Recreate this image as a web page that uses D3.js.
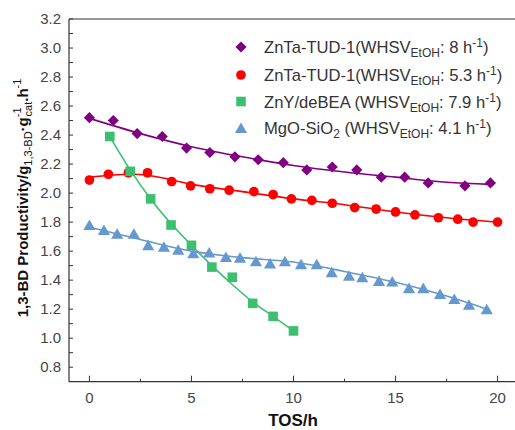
<!DOCTYPE html>
<html>
<head>
<meta charset="utf-8">
<script src="https://cdn.jsdelivr.net/npm/d3@7"></script>
<style>
  body { margin: 0; background: #fff; }
  svg { display: block; font-family: "Liberation Sans", Arial, sans-serif; }
</style>
</head>
<body>
<svg id="chart" width="515" height="430"></svg>
<script>
// measured points, TOS (h) vs productivity
const purpleX = [0, 1.17, 2.34, 3.57, 4.76, 5.9, 7.13, 8.27, 9.5, 10.65, 11.9, 13.1, 14.3, 15.45, 16.6, 18.4, 19.65];
const purpleY = [2.52, 2.50, 2.41, 2.39, 2.31, 2.28, 2.25, 2.23, 2.21, 2.16, 2.18, 2.16, 2.11, 2.11, 2.07, 2.05, 2.07];

const redX = [0, 0.93, 1.91, 2.85, 4.03, 4.96, 5.9, 6.85, 8.06, 9.0, 9.9, 10.9, 11.9, 13.0, 14.05, 15.0, 15.95, 17.1, 18.05, 18.8, 20.0];
const redY = [2.09, 2.13, 2.14, 2.14, 2.08, 2.05, 2.03, 2.02, 2.01, 1.99, 1.96, 1.95, 1.93, 1.90, 1.89, 1.87, 1.85, 1.83, 1.82, 1.80, 1.80];

const greenX = [1, 2, 3, 4, 5, 6, 7, 8, 9, 10];
const greenY = [2.39, 2.15, 1.96, 1.78, 1.64, 1.49, 1.42, 1.24, 1.15, 1.05];

const blueX = [0, 0.71, 1.36, 2.18, 2.88, 3.65, 4.35, 5.09, 5.87, 6.69, 7.38, 8.16, 8.85, 9.58, 10.37, 11.14, 11.87, 12.72, 13.37, 14.19, 14.84, 15.66, 16.36, 17.18, 17.88, 18.6, 19.47];
const blueY = [1.78, 1.745, 1.72, 1.72, 1.64, 1.63, 1.61, 1.585, 1.59, 1.56, 1.555, 1.53, 1.515, 1.53, 1.51, 1.51, 1.455, 1.43, 1.42, 1.395, 1.39, 1.345, 1.345, 1.305, 1.27, 1.23, 1.20];

// fitted trend lines
const purpleFitX = [0, 2.5, 5, 7.5, 10, 12.5, 15, 17.5, 19.65];
const purpleFitY = [2.515, 2.41, 2.32, 2.25, 2.19, 2.145, 2.11, 2.075, 2.06];
const redFitX = [0, 2, 3, 5, 7.5, 10, 12.5, 15, 17.5, 20];
const redFitY = [2.11, 2.13, 2.12, 2.06, 2.01, 1.96, 1.92, 1.87, 1.83, 1.80];
const greenFitX = [1, 2, 3, 4, 5, 6, 7, 8, 9, 10];
const greenFitY = [2.39, 2.16, 1.96, 1.79, 1.64, 1.50, 1.37, 1.25, 1.15, 1.05];
const blueFitX = [0, 2.5, 5, 7.5, 10, 12.5, 15, 17.5, 19.47];
const blueFitY = [1.765, 1.68, 1.60, 1.555, 1.525, 1.46, 1.385, 1.29, 1.20];

const xTicks = [0, 5, 10, 15, 20];
const xMinor = [2.5, 7.5, 12.5, 17.5];
const yTicks = [0.8, 1.0, 1.2, 1.4, 1.6, 1.8, 2.0, 2.2, 2.4, 2.6, 2.8, 3.0, 3.2];
const yMinor = [0.9, 1.1, 1.3, 1.5, 1.7, 1.9, 2.1, 2.3, 2.5, 2.7, 2.9, 3.1];

const legendNames = ["ZnTa-TUD-1(WHSV", "ZnTa-TUD-1(WHSV", "ZnY/deBEA (WHSV", "MgO-SiO"];
const legendRates = ["8", "5.3", "7.9", "4.1"];

const series = [
  { x: purpleX, y: purpleY, fx: purpleFitX, fy: purpleFitY, color: "#800080", shape: "diamond" },
  { x: redX, y: redY, fx: redFitX, fy: redFitY, color: "#ff0000", shape: "circle" },
  { x: greenX, y: greenY, fx: greenFitX, fy: greenFitY, color: "#3cbf6e", shape: "square" },
  { x: blueX, y: blueY, fx: blueFitX, fy: blueFitY, color: "#6698d0", shape: "triangle" }
];

const svg = d3.select("#chart");
const plotLeft = 69, plotRight = 518, plotTop = 19, plotBottom = 381.7;

const x = d3.scaleLinear().domain([-1, 21]).range([plotLeft, plotRight]);
const y = d3.scaleLinear().domain([0.7, 3.2]).range([plotBottom, plotTop]);

const axisColor = "#333";
const labelColor = "#444";

function markerPath(shape) {
  if (shape === "diamond") return d3.symbol(d3.symbolSquare, 62)();
  if (shape === "circle") return d3.symbol(d3.symbolCircle, 74)();
  if (shape === "square") return d3.symbol(d3.symbolSquare, 92)();
  return d3.symbol(d3.symbolTriangle, 64)();
}
function markerTransform(shape, px, py) {
  if (shape === "diamond") return `translate(${px},${py}) rotate(45)`;
  if (shape === "triangle") return `translate(${px},${py + 1.5})`;
  return `translate(${px},${py})`;
}

// frame: left, top, bottom
svg.append("line").attr("x1", plotLeft).attr("x2", plotLeft).attr("y1", plotTop).attr("y2", plotBottom)
  .attr("stroke", axisColor).attr("stroke-width", 1.2);
svg.append("line").attr("x1", plotLeft).attr("x2", 515).attr("y1", plotTop).attr("y2", plotTop)
  .attr("stroke", axisColor).attr("stroke-width", 1.2);
svg.append("line").attr("x1", plotLeft).attr("x2", 515).attr("y1", plotBottom).attr("y2", plotBottom)
  .attr("stroke", axisColor).attr("stroke-width", 1.2);

// x ticks (inward)
const gx = svg.append("g");
gx.selectAll(".maj").data(xTicks).enter().append("line")
  .attr("x1", d => x(d)).attr("x2", d => x(d))
  .attr("y1", plotBottom).attr("y2", plotBottom - 6)
  .attr("stroke", axisColor);
gx.selectAll(".min").data(xMinor).enter().append("line")
  .attr("x1", d => x(d)).attr("x2", d => x(d))
  .attr("y1", plotBottom).attr("y2", plotBottom - 3)
  .attr("stroke", axisColor);
gx.selectAll("text").data(xTicks).enter().append("text")
  .attr("x", d => x(d)).attr("y", plotBottom + 21)
  .attr("text-anchor", "middle").attr("font-size", 15).attr("fill", labelColor)
  .text(d => d);

// y ticks (inward)
const gy = svg.append("g");
gy.selectAll(".maj").data(yTicks.concat(yMinor)).enter().append("line")
  .attr("x1", plotLeft).attr("x2", plotLeft + 4)
  .attr("y1", d => y(d)).attr("y2", d => y(d))
  .attr("stroke", axisColor);
gy.selectAll("text").data(yTicks).enter().append("text")
  .attr("x", plotLeft - 8).attr("y", d => y(d) + 5)
  .attr("text-anchor", "end").attr("font-size", 15).attr("fill", labelColor)
  .text(d => d.toFixed(1));

// lines and markers
const line = d3.line().curve(d3.curveMonotoneX);
series.forEach(s => {
  const fit = s.fx.map((v, i) => [x(v), y(s.fy[i])]);
  svg.append("path").attr("d", line(fit))
    .attr("fill", "none").attr("stroke", s.color).attr("stroke-width", 1.6);
  svg.append("g").selectAll("path").data(s.x).enter().append("path")
    .attr("d", markerPath(s.shape))
    .attr("transform", (d, i) => markerTransform(s.shape, x(d), y(s.y[i])))
    .attr("fill", s.color);
});

// legend
const legRows = [47, 75, 101.5, 128];
series.forEach((s, i) => {
  svg.append("path").attr("d", markerPath(s.shape))
    .attr("transform", markerTransform(s.shape, 241, legRows[i]))
    .attr("fill", s.color);
  const t = svg.append("text").attr("x", 264).attr("y", legRows[i] + 6)
    .attr("font-size", 16.6).attr("fill", "#333");
  if (i === 3) {
    t.append("tspan").text(legendNames[i]);
    t.append("tspan").attr("font-size", 12).attr("dy", 4).text("2");
    t.append("tspan").attr("dy", -4).text(" (WHSV");
  } else {
    t.append("tspan").text(legendNames[i]);
  }
  t.append("tspan").attr("font-size", 12).attr("dy", 4).text("EtOH");
  t.append("tspan").attr("dy", -4).text(": " + legendRates[i] + " h");
  t.append("tspan").attr("font-size", 12).attr("dy", -6).text("-1");
  t.append("tspan").attr("dy", 6).text(")");
});

// axis titles
svg.append("text").attr("x", 293).attr("y", 426)
  .attr("text-anchor", "middle").attr("font-size", 17).attr("font-weight", "bold")
  .attr("fill", "#111").text("TOS/h");

const yt = svg.append("text")
  .attr("transform", "translate(28,198) rotate(-90)")
  .attr("text-anchor", "middle").attr("font-size", 15).attr("font-weight", "bold")
  .attr("fill", "#111");
yt.append("tspan").text("1,3-BD Productivity/g");
yt.append("tspan").attr("font-size", 11).attr("font-weight", "normal").attr("dy", 4).text("1,3-BD");
yt.append("tspan").attr("dy", -4).text("·g");
yt.append("tspan").attr("font-size", 11).attr("font-weight", "normal").attr("dy", -7).text("-1");
yt.append("tspan").attr("font-size", 11).attr("font-weight", "normal").attr("dx", -9).attr("dy", 11).text("cat");
yt.append("tspan").attr("dy", -4).text(".h");
yt.append("tspan").attr("font-size", 11).attr("font-weight", "normal").attr("dy", -7).text("-1");
</script>
</body>
</html>
